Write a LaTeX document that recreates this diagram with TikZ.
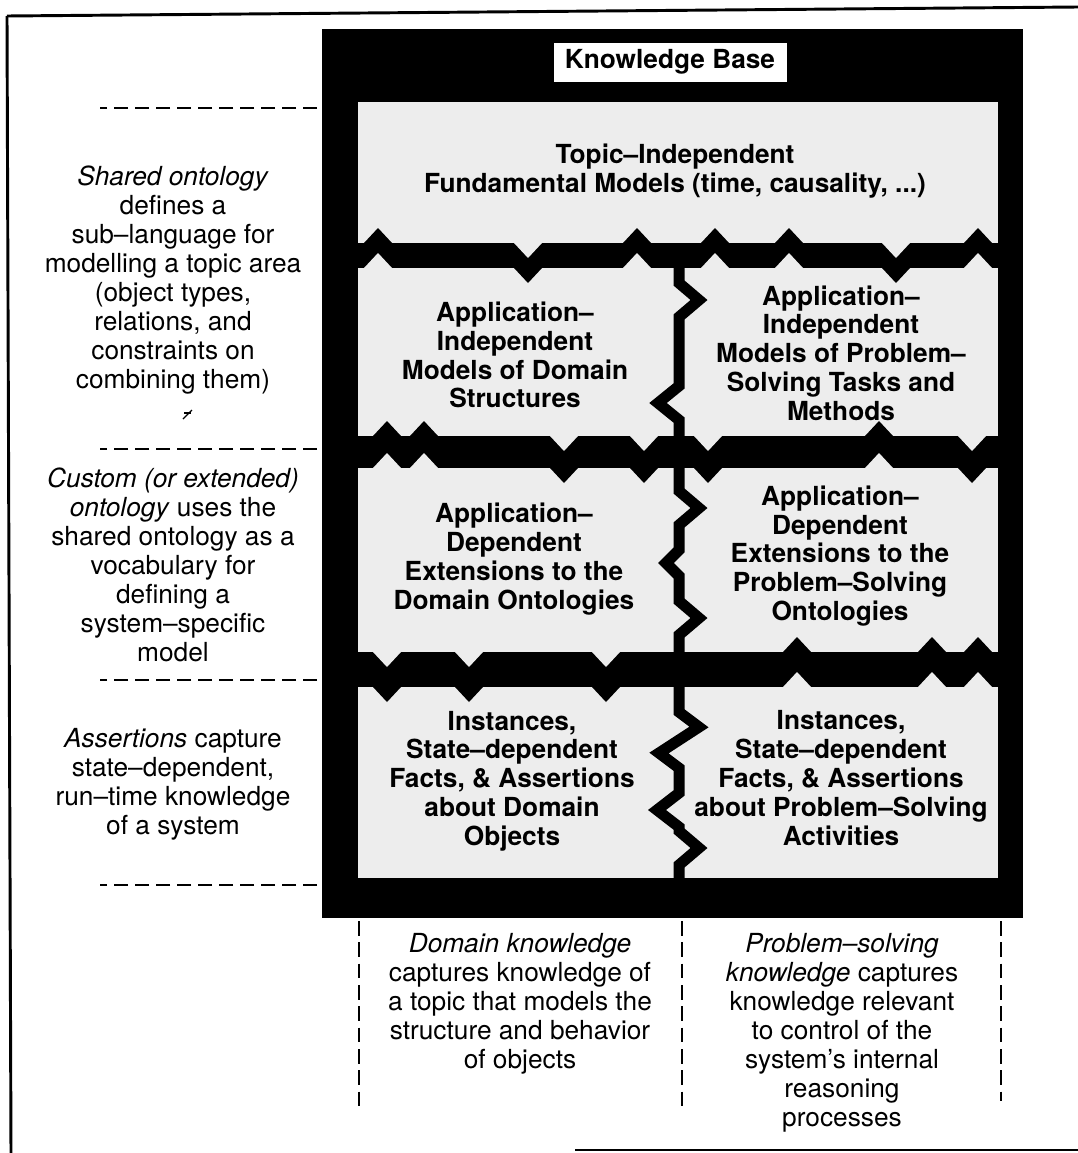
\documentclass[tikz,border=0pt]{standalone}
\usepackage{fontspec}
\setmainfont{TeX Gyre Heros}
\tikzset{
  panel/.style={fill=black!7},
  boxtext/.style={font=\bfseries\fontsize{19.7pt}{21.6pt}\selectfont, align=center, inner sep=0pt},
  sidetext/.style={font=\fontsize{19.7pt}{21.75pt}\selectfont, align=center, inner sep=0pt},
  sidedash/.style={line width=1.5pt, dash pattern=on 10.5pt off 5.25pt},
  coldash/.style={line width=1.5pt, dash pattern=on 11pt off 5pt},
  frameline/.style={line width=2.2pt},
  kblabel/.style={fill=white, inner sep=0pt, minimum width=174.75pt, minimum height=29.25pt,
    font=\bfseries\fontsize{19.7pt}{21.75pt}\selectfont},
  divider/.style={line width=8.25pt, line join=miter, miter limit=10},
}
% band between rows: #1 top y, #2 bottom y, #3 upward chevrons, #4 downward chevrons
\newcommand\kbband[4]{%
  \fill[black] (340,#1) rectangle (1010,#2);
  \foreach \c in {#3} {
    \fill[black] (\c-14,#1) -- (\c,#1-15) -- (\c+14,#1) -- cycle;
    \fill[panel] (\c-14,#2) -- (\c,#2-15) -- (\c+14,#2) -- cycle;
  }
  \foreach \c in {#4} {
    \fill[panel] (\c-14,#1) -- (\c,#1+15) -- (\c+14,#1) -- cycle;
    \fill[black] (\c-14,#2) -- (\c,#2+15) -- (\c+14,#2) -- cycle;
  }
}
\begin{document}
\begin{tikzpicture}[x=0.75pt,y=-0.75pt]
\useasboundingbox (0,0) rectangle (1078,1153);
% outer frame (scanned, partly cropped)
\draw[frameline] (7,16) -- (1078,7);
\draw[frameline] (7,16) -- (11,1153);
\draw[frameline] (575,1150) -- (1078,1150);
% knowledge base box
\fill[black] (322,29) rectangle (1023,918);
\fill[panel] (358,102) rectangle (998,878);
\kbband{243}{268}{378,637,715,789,978}{528,896}
\kbband{436}{468}{387,424,879}{564,644,708,972}
\kbband{652}{687}{797,932,978}{387,469,606}
% vertical divider
\draw[divider] (679,250) -- (679,283) -- (699,300) -- (679,317) -- (679,386) -- (658,403)
  -- (679,420) -- (679,491) -- (699,508) -- (679,525) -- (679,550) -- (666,563) -- (679,576)
  -- (679,601) -- (699,618) -- (679,635) -- (679,712) -- (699,727) -- (659,753) -- (679,768)
  -- (679,793) -- (657,810) -- (679,827) -- (679,831) -- (699,848) -- (679,865) -- (679,885);
\node[kblabel] (kb) at (670,62) {Knowledge Base};
% panel texts
\node[boxtext] (t1) at (675,171) {Topic–Independent\\Fundamental Models (time, causality, ...)};
\node[boxtext] (t2l) at (515,355) {Application–\\Independent\\Models of Domain\\Structures};
\node[boxtext] (t2r) at (841,353) {Application–\\Independent\\Models of Problem–\\Solving Tasks and\\Methods};
\node[boxtext] (t3l) at (514,559) {Application–\\Dependent\\Extensions to the\\Domain Ontologies};
\node[boxtext] (t3r) at (840,556) {Application–\\Dependent\\Extensions to the\\Problem–Solving\\Ontologies};
\node[boxtext] (t4l) at (512,781) {Instances,\\State–dependent\\Facts, \& Assertions\\about Domain\\Objects};
\node[boxtext] (t4r) at (841,778) {Instances,\\State–dependent\\Facts, \& Assertions\\about Problem–Solving\\Activities};
% left side
\draw[sidedash] (317,108) -- (100,108);
\draw[sidedash] (317,449) -- (100,449);
\draw[sidedash] (317,680) -- (100,680);
\draw[sidedash] (317,885) -- (100,885);
\node[sidetext] (s1) at (173,280) {\textit{Shared ontology}\\defines a\\sub–language for\\modelling a topic area\\(object types,\\relations, and\\constraints on\\combining them)};
\draw[line width=1pt] (183,419) -- (192,410);
\draw[line width=0.8pt] (184,413) -- (191,413);
\node[sidetext] (s2) at (173,565) {\textit{Custom (or extended)}\\\textit{ontology} uses the\\shared ontology as a\\vocabulary for\\defining a\\system–specific\\model};
\node[sidetext] (s3) at (173,784) {\textit{Assertions} capture\\state–dependent,\\run–time knowledge\\of a system};
% bottom columns
\draw[coldash] (359,921) -- (359,1107);
\draw[coldash] (682,921) -- (682,1112);
\draw[coldash] (1001,921) -- (1001,1101);
\node[sidetext] (b1) at (520,1004) {\textit{Domain knowledge}\\captures knowledge of\\a topic that models the\\structure and behavior\\of objects};
\node[sidetext] (b2) at (842,1033) {\textit{Problem–solving}\\\textit{knowledge} captures\\knowledge relevant\\to control of the\\system's internal\\reasoning\\processes};
\end{tikzpicture}
\end{document}
